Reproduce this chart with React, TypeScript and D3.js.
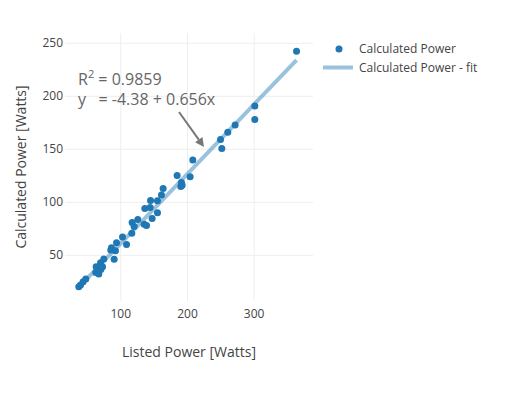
import React, { useEffect, useRef } from 'react';
import * as d3 from 'd3';

// data
const listedPower = [37, 39.6, 43.5, 47.5, 62.5, 63, 67, 69.6, 70, 72.6, 74.5, 85, 86, 90, 92, 93.6, 102.6, 108.6, 116.5, 117, 120, 125.5, 135, 136, 138.6, 144, 144.6, 147, 155, 155, 161, 163.5, 184.5, 190, 191, 192, 204, 208, 249.6, 251.5, 260.5, 271.5, 301, 301, 363.6];
const calculatedPower = [20.4, 22, 25.1, 27.6, 33.9, 39.2, 32.3, 43, 36.7, 39.2, 46.5, 55, 57.1, 46.2, 54.3, 61.8, 67.2, 60.3, 70.7, 81, 77.2, 83.8, 79.4, 94.2, 78.2, 95.2, 101.8, 84.8, 101.4, 90.1, 107, 113, 125.3, 115, 118.7, 116.2, 124, 140, 159.2, 150.8, 166.1, 173, 190.9, 178.1, 242.4];
const xTicks = [100, 200, 300];
const yTicks = [50, 100, 150, 200, 250];
const fitIntercept = -4.38;
const fitSlope = 0.656;
const legendLabels = ['Calculated Power', 'Calculated Power - fit'];

const W = 521;
const H = 395;
const plot = { left: 65, right: 313, top: 33, bottom: 301 };
const FONT = '"Open Sans", sans-serif';

const App = () => {
  const svgRef = useRef<SVGSVGElement>(null);

  useEffect(() => {
    const svg = d3.select(svgRef.current);
    svg.selectAll('*').remove();

    const x = d3.scaleLinear().domain([16.3, 388.3]).range([plot.left, plot.right]);
    const y = d3.scaleLinear().domain([6.9, 259.7]).range([plot.bottom, plot.top]);

    // grid
    svg.append('g').selectAll('line').data(xTicks).join('line')
      .attr('x1', d => x(d)).attr('x2', d => x(d))
      .attr('y1', plot.top).attr('y2', plot.bottom)
      .attr('stroke', '#eee').attr('stroke-width', 1);
    svg.append('g').selectAll('line').data(yTicks).join('line')
      .attr('y1', d => y(d)).attr('y2', d => y(d))
      .attr('x1', plot.left).attr('x2', plot.right)
      .attr('stroke', '#eee').attr('stroke-width', 1);

    // tick labels
    svg.append('g').selectAll('text').data(xTicks).join('text')
      .attr('x', d => x(d)).attr('y', plot.bottom + 17)
      .attr('text-anchor', 'middle')
      .attr('font-family', FONT).attr('font-size', 12).attr('fill', '#444')
      .text(d => d);
    svg.append('g').selectAll('text').data(yTicks).join('text')
      .attr('x', plot.left - 2).attr('y', d => y(d) + 4)
      .attr('text-anchor', 'end')
      .attr('font-family', FONT).attr('font-size', 12).attr('fill', '#444')
      .text(d => d);

    // fit line
    const xMin = d3.min(listedPower) as number;
    const xMax = d3.max(listedPower) as number;
    const line = d3.line<number>().x(d => x(d)).y(d => y(fitIntercept + fitSlope * d));
    svg.append('path')
      .datum([xMin, xMax])
      .attr('d', line)
      .attr('fill', 'none')
      .attr('stroke', 'rgba(31,119,180,0.45)')
      .attr('stroke-width', 4);

    // points
    svg.append('g').selectAll('circle').data(listedPower).join('circle')
      .attr('cx', d => x(d))
      .attr('cy', (d, i) => y(calculatedPower[i]))
      .attr('r', 3.5)
      .attr('fill', '#1f77b4');

    // annotation
    const ann = svg.append('g').attr('font-family', FONT).attr('font-size', 16).attr('fill', '#666');
    const t1 = ann.append('text').attr('x', 78).attr('y', 85);
    t1.append('tspan').text('R');
    t1.append('tspan').attr('font-size', 11).attr('dy', -7).text('2');
    t1.append('tspan').attr('dy', 7).text(' = 0.9859');
    ann.append('text').attr('x', 78).attr('y', 105).attr('xml:space', 'preserve').text('y   = -4.38 + 0.656x');

    // arrow
    const ax0 = 179, ay0 = 112, ax1 = 204, ay1 = 147;
    const ang = Math.atan2(ay1 - ay0, ax1 - ax0);
    const hl = 9, hw = 4.5;
    const bx = ax1 - hl * Math.cos(ang), by = ay1 - hl * Math.sin(ang);
    svg.append('line')
      .attr('x1', ax0).attr('y1', ay0).attr('x2', bx).attr('y2', by)
      .attr('stroke', '#777').attr('stroke-width', 2);
    svg.append('path')
      .attr('d', `M${ax1},${ay1}L${bx - hw * Math.sin(ang)},${by + hw * Math.cos(ang)}L${bx + hw * Math.sin(ang)},${by - hw * Math.cos(ang)}Z`)
      .attr('fill', '#777');

    // legend
    const lg = svg.append('g').attr('font-family', FONT).attr('font-size', 12).attr('fill', '#444');
    lg.append('circle').attr('cx', 339).attr('cy', 49).attr('r', 3.5).attr('fill', '#1f77b4');
    lg.append('line').attr('x1', 323).attr('x2', 353).attr('y1', 67.5).attr('y2', 67.5)
      .attr('stroke', 'rgba(31,119,180,0.45)').attr('stroke-width', 4);
    lg.selectAll('text').data(legendLabels).join('text')
      .attr('x', 359).attr('y', (d, i) => 53 + i * 19)
      .text(d => d);

    // axis titles
    svg.append('text')
      .attr('x', (plot.left + plot.right) / 2).attr('y', 357)
      .attr('text-anchor', 'middle')
      .attr('font-family', FONT).attr('font-size', 14).attr('fill', '#444')
      .text('Listed Power [Watts]');
    svg.append('text')
      .attr('transform', `translate(26,${(plot.top + plot.bottom) / 2}) rotate(-90)`)
      .attr('text-anchor', 'middle')
      .attr('font-family', FONT).attr('font-size', 14).attr('fill', '#444')
      .text('Calculated Power [Watts]');
  }, []);

  return (
    <div style={{ position: 'absolute', left: 0, top: 0, background: 'white' }}>
      <svg ref={svgRef} width={W} height={H} />
    </div>
  );
};

export default App;
